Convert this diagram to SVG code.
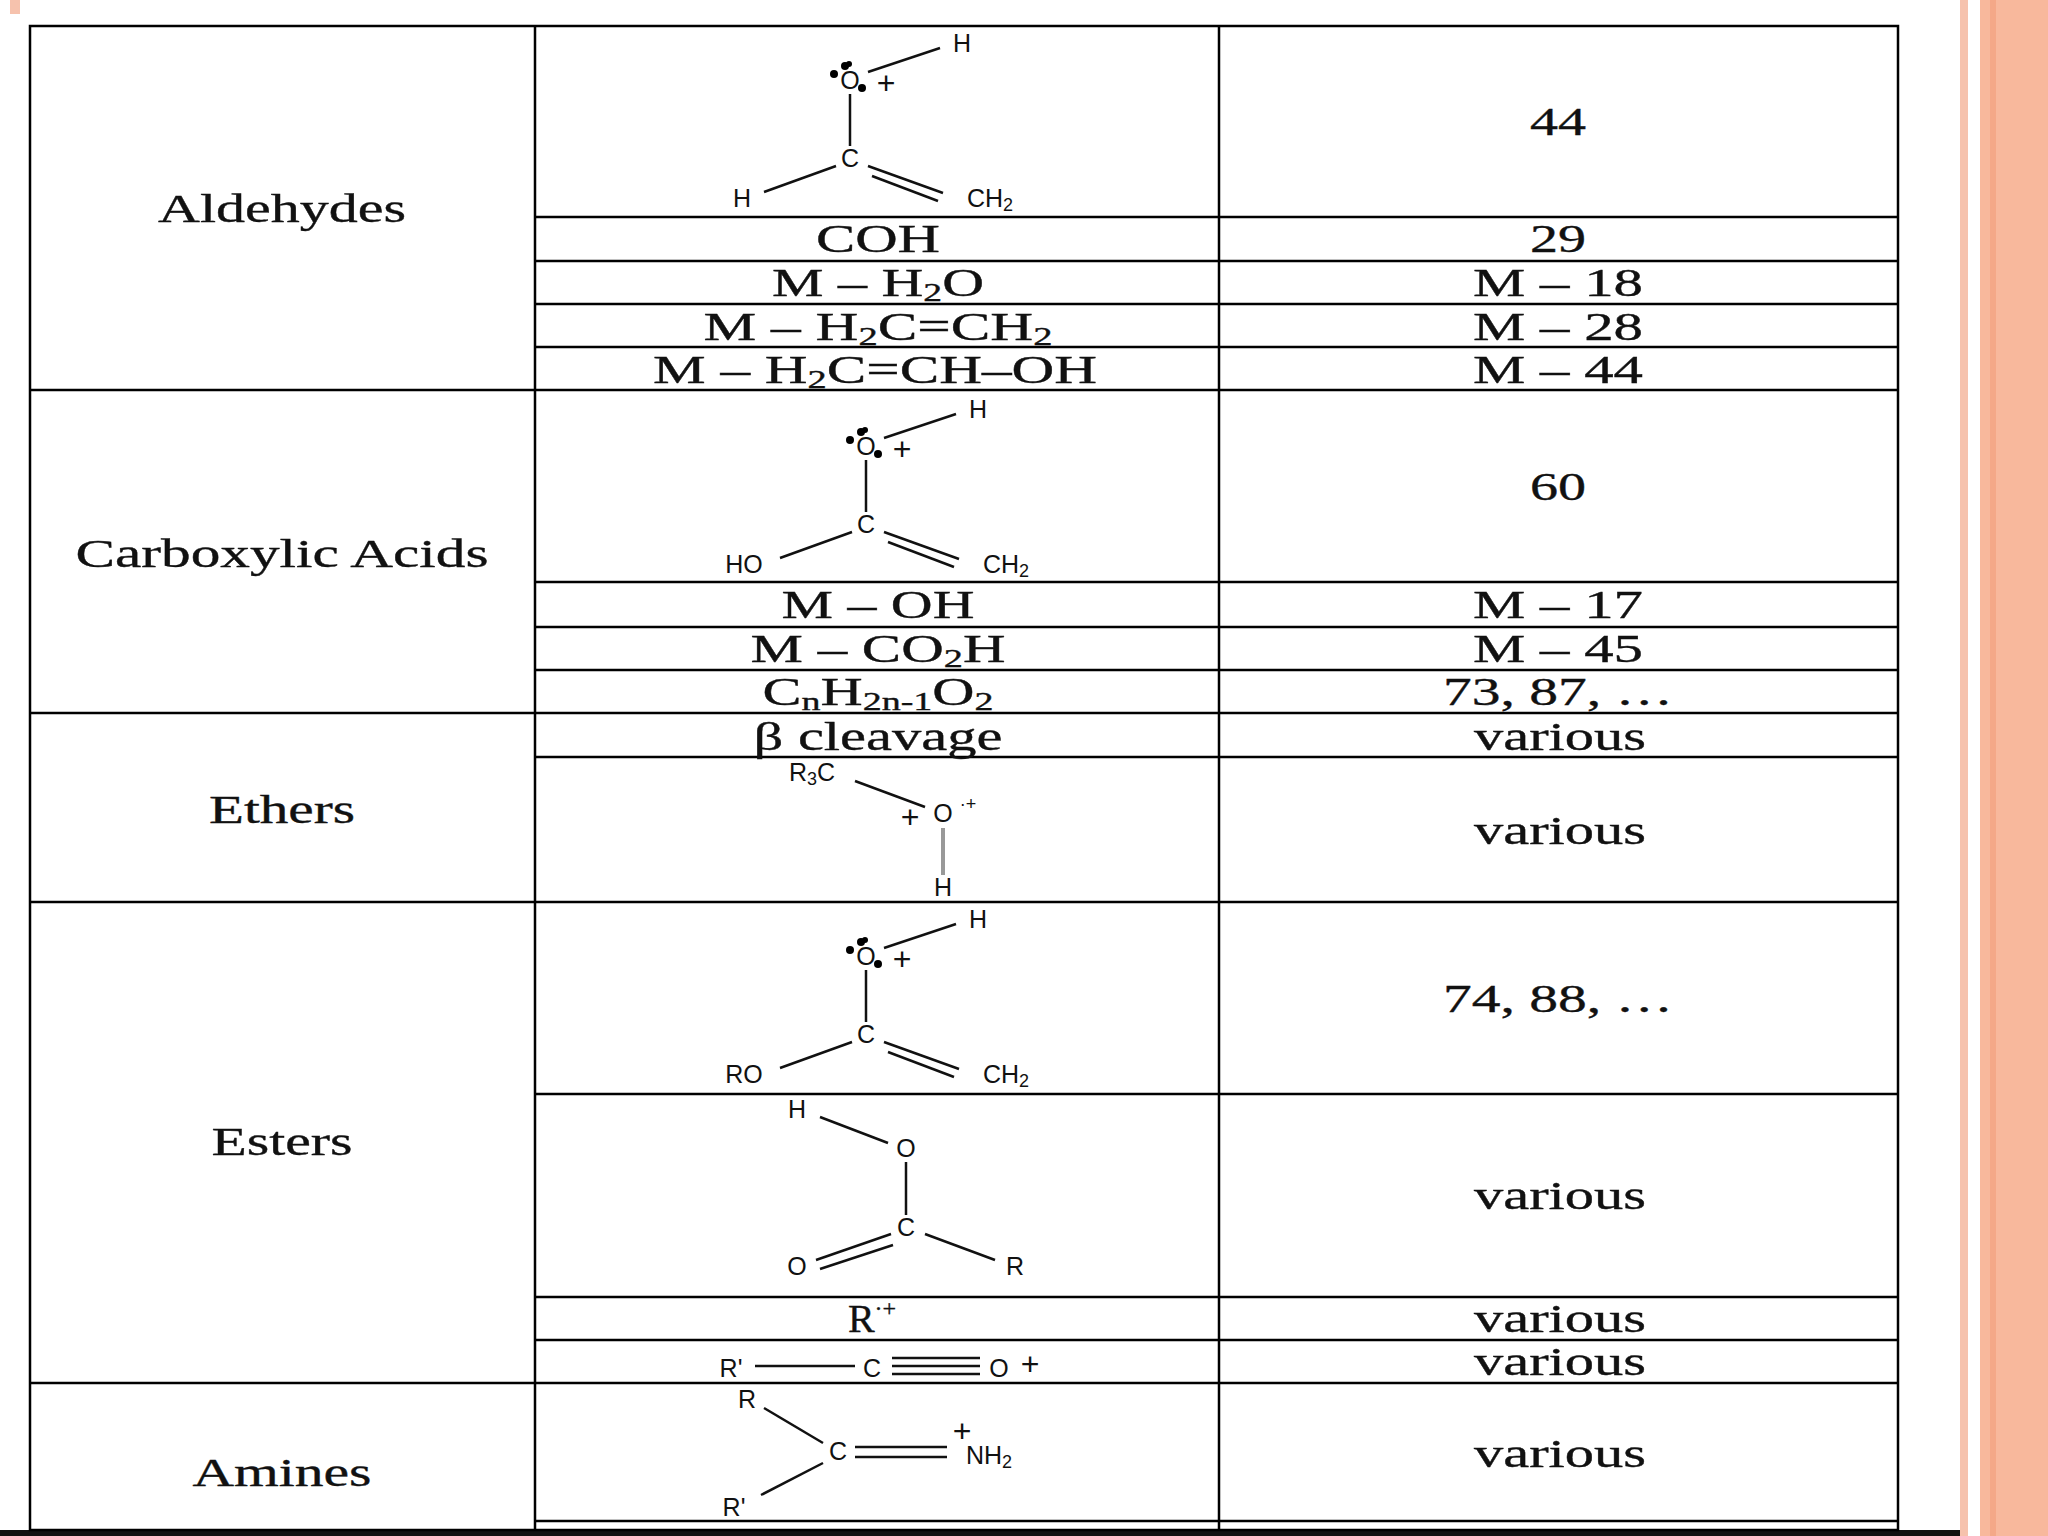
<svg xmlns="http://www.w3.org/2000/svg" width="2048" height="1536" viewBox="0 0 2048 1536">
<style>
.g{stroke:#000;stroke-width:2.5;fill:none}
.t{font-family:"Liberation Serif",serif;font-size:40px;text-anchor:middle;fill:#111;stroke:#111;stroke-width:0.35}
.s{font-family:"Liberation Sans",sans-serif;font-size:25px;text-anchor:middle;fill:#111}
.p{font-family:"Liberation Sans",sans-serif;font-size:32px;text-anchor:middle;fill:#111}
.r{font-family:"Liberation Sans",sans-serif;font-size:18px;text-anchor:middle;fill:#111}
.b{stroke:#111;stroke-width:2.5}
.sb{font-size:26px;baseline-shift:-5px}
</style>
<rect width="2048" height="1536" fill="#fff"/>
<rect x="10" y="0" width="10" height="14" fill="#f6c2ad"/>
<rect x="1960" y="0" width="8" height="1536" fill="#f6c2ad"/>
<rect x="1980" y="0" width="68" height="1536" fill="#f8b89c"/>
<rect x="1990" y="0" width="6" height="1536" fill="#f4a888"/>
<rect x="0" y="1530" width="1960" height="6" fill="#111"/>
<g id="table" class="g">
<rect x="30" y="26" width="1868" height="1504"/>
<line x1="535" y1="26" x2="535" y2="1530"/>
<line x1="1219" y1="26" x2="1219" y2="1530"/>
<line x1="535" y1="217" x2="1898" y2="217"/>
<line x1="535" y1="261" x2="1898" y2="261"/>
<line x1="535" y1="304" x2="1898" y2="304"/>
<line x1="535" y1="347" x2="1898" y2="347"/>
<line x1="30" y1="390" x2="1898" y2="390"/>
<line x1="535" y1="582" x2="1898" y2="582"/>
<line x1="535" y1="627" x2="1898" y2="627"/>
<line x1="535" y1="670" x2="1898" y2="670"/>
<line x1="30" y1="713" x2="1898" y2="713"/>
<line x1="535" y1="757" x2="1898" y2="757"/>
<line x1="30" y1="902" x2="1898" y2="902"/>
<line x1="535" y1="1094" x2="1898" y2="1094"/>
<line x1="535" y1="1297" x2="1898" y2="1297"/>
<line x1="535" y1="1340" x2="1898" y2="1340"/>
<line x1="30" y1="1383" x2="1898" y2="1383"/>
<line x1="535" y1="1521" x2="1898" y2="1521"/>
</g>
<defs>
<g id="mc">
<line class="b" x1="868" y1="72" x2="940" y2="48"/>
<line class="b" x1="850" y1="94" x2="850" y2="146"/>
<line class="b" x1="868" y1="166" x2="943" y2="193"/>
<line class="b" x1="872" y1="176" x2="938" y2="201"/>
<line class="b" x1="836" y1="166" x2="764" y2="192"/>
<text class="s" x="850" y="89">O</text>
<text class="p" x="886" y="94">+</text>
<circle cx="845" cy="66" r="4"/><circle cx="834" cy="74" r="4"/><circle cx="862" cy="88" r="4"/><circle cx="849" cy="64" r="3"/>
<text class="s" x="962" y="52">H</text>
<text class="s" x="850" y="167">C</text>
<text class="s" x="990" y="207">CH<tspan font-size="18" dy="4">2</tspan></text>
</g>
</defs>
<g id="labels">
<text class="t" x="282" y="222" textLength="248" lengthAdjust="spacingAndGlyphs">Aldehydes</text>
<text class="t" x="282" y="567" textLength="413" lengthAdjust="spacingAndGlyphs">Carboxylic Acids</text>
<text class="t" x="282" y="823" textLength="146" lengthAdjust="spacingAndGlyphs">Ethers</text>
<text class="t" x="282" y="1155" textLength="141" lengthAdjust="spacingAndGlyphs">Esters</text>
<text class="t" x="282" y="1486" textLength="179" lengthAdjust="spacingAndGlyphs">Amines</text>
</g>
<g id="col2">
<use href="#mc"/>
<text class="s" x="742" y="207">H</text>
<use href="#mc" transform="translate(16,366)"/>
<text class="s" x="744" y="573">HO</text>
<use href="#mc" transform="translate(16,876)"/>
<text class="s" x="744" y="1083">RO</text>
<text class="t" x="878" y="252" textLength="124" lengthAdjust="spacingAndGlyphs">COH</text>
<text class="t" x="878" y="296" textLength="212" lengthAdjust="spacingAndGlyphs">M – H<tspan class="sb">2</tspan>O</text>
<text class="t" x="878" y="340" textLength="349" lengthAdjust="spacingAndGlyphs">M – H<tspan class="sb">2</tspan>C=CH<tspan class="sb">2</tspan></text>
<text class="t" x="875" y="383" textLength="444" lengthAdjust="spacingAndGlyphs">M – H<tspan class="sb">2</tspan>C=CH–OH</text>
<text class="t" x="878" y="618" textLength="193" lengthAdjust="spacingAndGlyphs">M – OH</text>
<text class="t" x="878" y="662" textLength="255" lengthAdjust="spacingAndGlyphs">M – CO<tspan class="sb">2</tspan>H</text>
<text class="t" x="878" y="705" textLength="231" lengthAdjust="spacingAndGlyphs">C<tspan class="sb">n</tspan>H<tspan class="sb">2n-1</tspan>O<tspan class="sb">2</tspan></text>
<text class="t" x="878" y="750" textLength="249" lengthAdjust="spacingAndGlyphs">β cleavage</text>
<text class="t" x="872" y="1332">R<tspan font-size="24" dy="-16">·+</tspan></text>
<g id="ether">
<text class="s" x="812" y="781">R<tspan font-size="18" dy="4">3</tspan><tspan dy="-4">C</tspan></text>
<line class="b" x1="855" y1="781" x2="925" y2="807"/>
<text class="p" x="910" y="828">+</text>
<text class="s" x="943" y="822">O</text>
<text class="r" x="968" y="810">·+</text>
<line x1="943" y1="828" x2="943" y2="875" stroke="#999" stroke-width="4"/>
<text class="s" x="943" y="896">H</text>
</g>
<g id="ester2">
<text class="s" x="797" y="1118">H</text>
<line class="b" x1="820" y1="1117" x2="888" y2="1143"/>
<text class="s" x="906" y="1157">O</text>
<line class="b" x1="906" y1="1162" x2="906" y2="1215"/>
<text class="s" x="906" y="1236">C</text>
<line class="b" x1="925" y1="1234" x2="995" y2="1260"/>
<text class="s" x="1015" y="1275">R</text>
<line class="b" x1="891" y1="1234" x2="816" y2="1260"/>
<line class="b" x1="893" y1="1245" x2="820" y2="1269"/>
<text class="s" x="797" y="1275">O</text>
</g>
<g id="acylium">
<text class="s" x="731" y="1377">R'</text>
<line class="b" x1="755" y1="1366" x2="855" y2="1366"/>
<text class="s" x="872" y="1377">C</text>
<line class="b" x1="892" y1="1358" x2="980" y2="1358"/>
<line class="b" x1="892" y1="1366" x2="980" y2="1366"/>
<line class="b" x1="892" y1="1374" x2="980" y2="1374"/>
<text class="s" x="999" y="1377">O</text>
<text class="p" x="1030" y="1375">+</text>
</g>
<g id="amine">
<text class="s" x="747" y="1408">R</text>
<line class="b" x1="764" y1="1408" x2="823" y2="1443"/>
<text class="s" x="838" y="1460">C</text>
<line class="b" x1="823" y1="1463" x2="761" y2="1495"/>
<text class="s" x="734" y="1516">R'</text>
<line class="b" x1="855" y1="1447" x2="947" y2="1447"/>
<line class="b" x1="855" y1="1457" x2="947" y2="1457"/>
<text class="p" x="962" y="1442">+</text>
<text class="s" x="989" y="1464">NH<tspan font-size="18" dy="4">2</tspan></text>
</g>
</g>
<g id="col3">
<text class="t" x="1558" y="135" textLength="56" lengthAdjust="spacingAndGlyphs">44</text>
<text class="t" x="1558" y="252" textLength="56" lengthAdjust="spacingAndGlyphs">29</text>
<text class="t" x="1558" y="296" textLength="170" lengthAdjust="spacingAndGlyphs">M – 18</text>
<text class="t" x="1558" y="340" textLength="170" lengthAdjust="spacingAndGlyphs">M – 28</text>
<text class="t" x="1558" y="383" textLength="170" lengthAdjust="spacingAndGlyphs">M – 44</text>
<text class="t" x="1558" y="500" textLength="56" lengthAdjust="spacingAndGlyphs">60</text>
<text class="t" x="1558" y="618" textLength="170" lengthAdjust="spacingAndGlyphs">M – 17</text>
<text class="t" x="1558" y="662" textLength="170" lengthAdjust="spacingAndGlyphs">M – 45</text>
<text class="t" x="1558" y="705" textLength="230" lengthAdjust="spacingAndGlyphs">73, 87, …</text>
<text class="t" x="1560" y="750" textLength="172" lengthAdjust="spacingAndGlyphs">various</text>
<text class="t" x="1560" y="844" textLength="172" lengthAdjust="spacingAndGlyphs">various</text>
<text class="t" x="1558" y="1012" textLength="230" lengthAdjust="spacingAndGlyphs">74, 88, …</text>
<text class="t" x="1560" y="1209" textLength="172" lengthAdjust="spacingAndGlyphs">various</text>
<text class="t" x="1560" y="1332" textLength="172" lengthAdjust="spacingAndGlyphs">various</text>
<text class="t" x="1560" y="1375" textLength="172" lengthAdjust="spacingAndGlyphs">various</text>
<text class="t" x="1560" y="1467" textLength="172" lengthAdjust="spacingAndGlyphs">various</text>
</g>
</svg>
